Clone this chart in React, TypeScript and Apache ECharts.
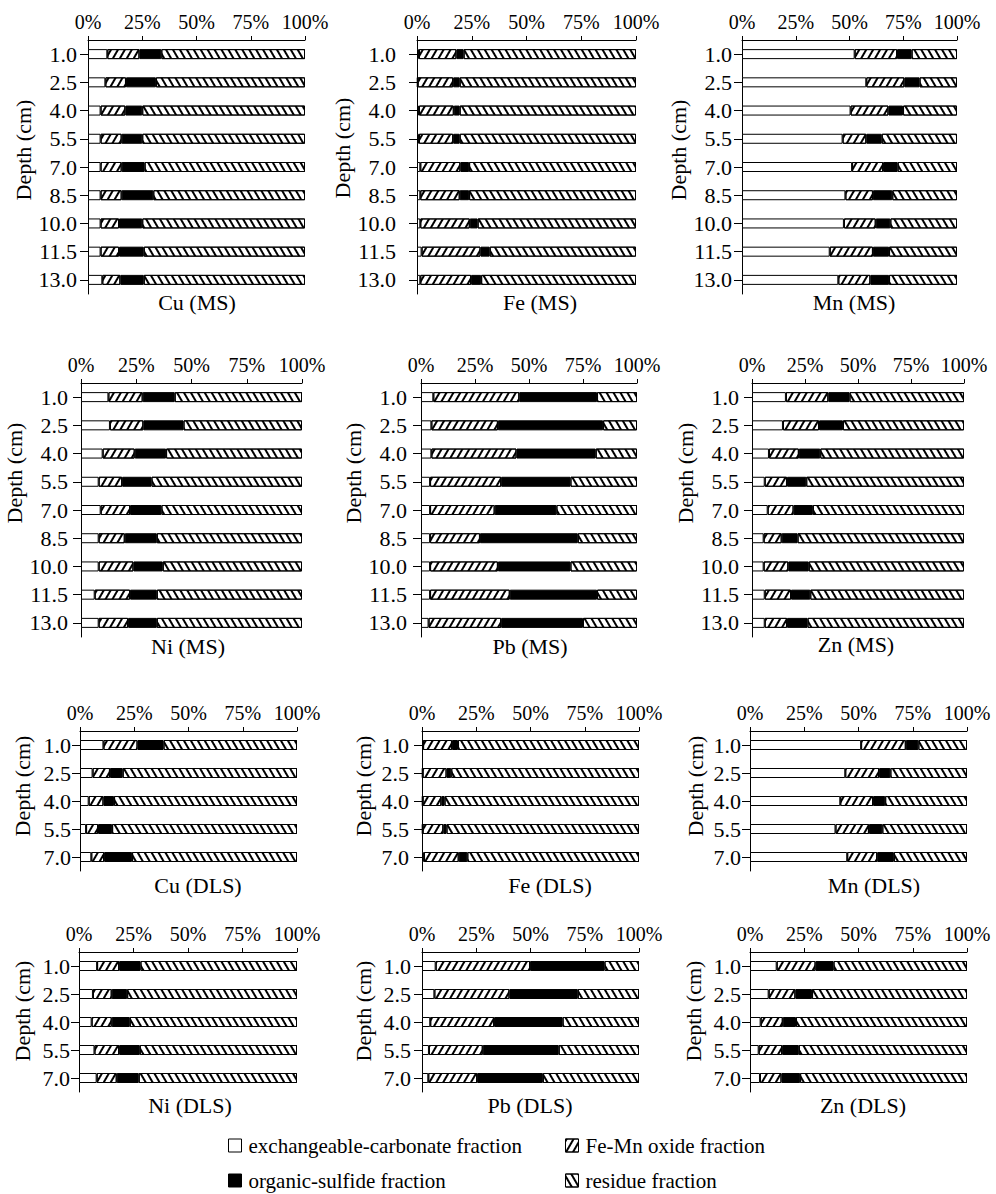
import React, { useEffect, useRef } from 'react';
import * as echarts from 'echarts';

// ---------- data ----------
const depthMS = ['1.0', '2.5', '4.0', '5.5', '7.0', '8.5', '10.0', '11.5', '13.0'];
const depthDLS = ['1.0', '2.5', '4.0', '5.5', '7.0'];
const fractionNames = [
  'exchangeable-carbonate fraction',
  'Fe-Mn oxide fraction',
  'organic-sulfide fraction',
  'residue fraction',
];
const panelTitles = [
  'Cu (MS)', 'Fe (MS)', 'Mn (MS)',
  'Ni (MS)', 'Pb (MS)', 'Zn (MS)',
  'Cu (DLS)', 'Fe (DLS)', 'Mn (DLS)',
  'Ni (DLS)', 'Pb (DLS)', 'Zn (DLS)',
];

// each: [exchangeable-carbonate, Fe-Mn oxide, organic-sulfide, residue] (%)
const cuMS = [
  [8.9, 8.0, 5.8, 5.8, 5.8, 5.8, 5.8, 5.8, 6.6],
  [14.8, 9.5, 11.4, 9.7, 9.7, 9.7, 8.5, 8.5, 8.3],
  [10.1, 13.8, 7.8, 9.5, 10.6, 14.6, 10.7, 11.4, 10.8],
  [66.2, 68.7, 75.0, 75.0, 73.9, 69.9, 75.0, 74.3, 74.3],
];
const feMS = [
  [0.9, 0.3, 0.9, 0.9, 1.5, 1.5, 1.5, 2.1, 1.5],
  [17.1, 16.2, 15.9, 15.6, 18.3, 18.0, 22.6, 26.9, 23.2],
  [3.3, 3.0, 2.7, 3.0, 4.0, 4.3, 3.6, 4.2, 4.6],
  [78.7, 80.5, 80.5, 80.5, 76.2, 76.2, 72.3, 66.8, 70.7],
];
const mnMS = [
  [52.4, 57.8, 50.5, 46.8, 51.2, 48.1, 47.4, 40.8, 44.8],
  [19.7, 17.7, 17.6, 11.0, 14.4, 12.8, 14.8, 20.1, 14.9],
  [6.8, 7.1, 6.8, 7.2, 6.8, 9.0, 6.8, 7.5, 8.7],
  [21.1, 17.4, 25.1, 35.0, 27.6, 30.1, 31.0, 31.6, 31.6],
];
const niMS = [
  [12.4, 13.1, 9.8, 8.0, 8.9, 8.0, 8.0, 6.2, 8.0],
  [15.5, 15.1, 14.5, 10.6, 13.3, 11.8, 15.7, 16.0, 13.3],
  [14.5, 18.2, 14.2, 13.3, 14.2, 14.5, 13.3, 12.1, 13.0],
  [57.6, 53.6, 61.5, 68.1, 63.6, 65.7, 63.0, 65.7, 65.7],
];
const pbMS = [
  [5.7, 4.8, 4.8, 4.2, 4.2, 4.2, 4.2, 4.2, 3.5],
  [39.8, 30.8, 39.4, 32.9, 29.9, 23.1, 31.4, 36.9, 33.6],
  [36.0, 48.7, 36.7, 32.1, 28.6, 45.3, 33.6, 40.4, 37.9],
  [18.5, 15.7, 19.1, 30.8, 37.3, 27.4, 30.8, 18.5, 25.0],
];
const znMS = [
  [16.0, 14.6, 8.0, 6.0, 7.4, 5.5, 5.5, 6.0, 6.0],
  [20.0, 17.0, 14.1, 10.5, 12.2, 8.5, 11.6, 12.4, 10.5],
  [10.0, 11.3, 10.1, 9.1, 9.1, 7.5, 9.7, 9.1, 9.7],
  [54.0, 57.1, 67.8, 74.4, 71.3, 78.5, 73.2, 72.5, 73.8],
];
const cuDLS = [
  [10.8, 5.8, 4.0, 2.8, 5.2],
  [15.7, 8.0, 6.8, 5.5, 5.9],
  [12.0, 5.9, 4.9, 6.5, 12.9],
  [61.5, 80.3, 84.3, 85.2, 76.0],
];
const feDLS = [
  [0.5, 0.3, 0.3, 0.3, 0.9],
  [13.3, 11.0, 8.6, 9.5, 16.0],
  [2.8, 2.2, 1.5, 1.5, 4.0],
  [83.4, 86.5, 89.6, 88.7, 79.1],
];
const mnDLS = [
  [51.2, 43.9, 41.6, 39.4, 44.8],
  [20.6, 15.6, 15.1, 15.4, 13.8],
  [5.8, 5.2, 5.6, 6.2, 7.7],
  [22.4, 35.3, 37.7, 39.0, 33.7],
];
const niDLS = [
  [8.3, 6.4, 5.8, 7.1, 8.1],
  [10.1, 8.6, 9.2, 11.3, 9.2],
  [9.8, 7.1, 8.3, 9.5, 10.1],
  [71.8, 77.9, 76.7, 72.1, 72.6],
];
const pbDLS = [
  [6.3, 5.7, 3.8, 3.2, 2.9],
  [43.5, 34.6, 29.4, 24.8, 22.5],
  [34.3, 31.5, 31.6, 35.0, 30.3],
  [15.9, 28.2, 35.2, 37.0, 44.3],
];
const znDLS = [
  [12.3, 8.6, 4.9, 4.0, 4.6],
  [17.9, 12.3, 10.2, 10.8, 9.9],
  [8.3, 7.7, 6.1, 7.7, 8.6],
  [61.5, 71.4, 78.8, 77.5, 76.9],
];

const panelValues = [cuMS, feMS, mnMS, niMS, pbMS, znMS, cuDLS, feDLS, mnDLS, niDLS, pbDLS, znDLS];
const panelDepths = [depthMS, depthMS, depthMS, depthMS, depthMS, depthMS, depthDLS, depthDLS, depthDLS, depthDLS, depthDLS, depthDLS];

// ---------- layout (pixels) ----------
// l: x of 0%, r: x of 100%, t: top axis y, h: plot height, lm: y-label margin,
// ng: y-name gap, ns: y-name upward shift, tx/ty: panel title centre
const layout = [
  { l: 88, r: 305, t: 40, h: 254, lm: 11, ng: 47, ns: 17, tx: 197, ty: 302 },
  { l: 417, r: 636, t: 40, h: 254, lm: 21, ng: 47, ns: 19, tx: 540, ty: 302 },
  { l: 742, r: 957, t: 40, h: 254, lm: 10, ng: 50, ns: 17, tx: 854, ty: 302 },
  { l: 81, r: 302, t: 383, h: 254, lm: 13, ng: 49, ns: 37, tx: 188, ty: 646 },
  { l: 421, r: 637, t: 383, h: 254, lm: 14, ng: 47, ns: 37, tx: 530, ty: 646 },
  { l: 752, r: 964, t: 383, h: 254, lm: 13, ng: 46, ns: 37, tx: 856, ty: 644 },
  { l: 80, r: 297, t: 731, h: 140, lm: 9, ng: 47, ns: 15, tx: 198, ty: 885 },
  { l: 422, r: 639, t: 731, h: 140, lm: 13, ng: 48, ns: 15, tx: 550, ty: 885 },
  { l: 750, r: 967, t: 731, h: 140, lm: 9, ng: 44, ns: 15, tx: 874, ty: 885 },
  { l: 79, r: 297, t: 952, h: 140, lm: 9, ng: 46, ns: 11, tx: 190, ty: 1105 },
  { l: 422, r: 639, t: 952, h: 140, lm: 11, ng: 48, ns: 11, tx: 530, ty: 1105 },
  { l: 750, r: 967, t: 952, h: 140, lm: 9, ng: 46, ns: 11, tx: 863, ty: 1105 },
];

const FONT = 'Liberation Serif';

const hatchFeMn = {
  symbol: 'rect', symbolSize: 1, dashArrayX: [1, 0], dashArrayY: [2, 4],
  rotation: -Math.PI / 3, color: '#000',
};
const hatchRes = {
  symbol: 'rect', symbolSize: 1, dashArrayX: [1, 0], dashArrayY: [2, 4],
  rotation: Math.PI / 3, color: '#000',
};
const fills = ['#fff', '#fff', '#000', '#fff'];
const decals: any[] = [null, hatchFeMn, null, hatchRes];

function buildOption() {
  const grid: any[] = [];
  const xAxis: any[] = [];
  const yAxis: any[] = [];
  const series: any[] = [];
  const graphic: any[] = [];

  layout.forEach((g, i) => {
    grid.push({ left: g.l, top: g.t, width: g.r - g.l, height: g.h, containLabel: false });
    xAxis.push({
      type: 'value', gridIndex: i, position: 'top', min: 0, max: 100, interval: 25,
      axisLine: { show: true, lineStyle: { color: '#000', width: 1 } },
      axisTick: { show: true, length: 4, lineStyle: { color: '#000' } },
      axisLabel: { formatter: '{value}%', color: '#000', fontSize: 20, fontFamily: FONT, margin: 8 },
      splitLine: { show: false },
    });
    yAxis.push({
      type: 'category', gridIndex: i, inverse: true, data: panelDepths[i],
      axisLine: { show: true, lineStyle: { color: '#000', width: 1 } },
      axisTick: { show: true, alignWithLabel: true, interval: 0, length: 8, lineStyle: { color: '#000' } },
      axisLabel: { interval: 0, color: '#000', fontSize: 22, fontFamily: FONT, margin: g.lm, padding: [4, 0, 0, 0] },
      name: 'Depth (cm)', nameLocation: 'middle', nameGap: g.ng,
      nameTextStyle: { color: '#000', fontSize: 22, fontFamily: FONT, padding: [0, 0, 0, 2 * g.ns] },
      splitLine: { show: false },
    });
    fractionNames.forEach((name, k) => {
      series.push({
        type: 'bar', name, xAxisIndex: i, yAxisIndex: i, stack: 'p' + i, barWidth: 10,
        data: panelValues[i][k],
        silent: true,
        itemStyle: { color: fills[k], borderColor: '#000', borderWidth: 1, decal: decals[k] || undefined },
      });
    });
    graphic.push({
      type: 'text', x: g.tx, y: g.ty,
      style: {
        text: panelTitles[i], fontSize: 22, fontFamily: FONT, fill: '#000',
        align: 'center', verticalAlign: 'middle', textAlign: 'center', textVerticalAlign: 'middle',
      },
    });
  });

  const legendCommon = {
    orient: 'vertical', itemWidth: 13, itemHeight: 13, itemGap: 14, padding: 0,
    icon: 'rect', selectedMode: false,
    textStyle: { color: '#000', fontSize: 21, fontFamily: FONT, lineHeight: 21, padding: [0, 0, 0, 2] },
    itemStyle: { borderColor: '#000', borderWidth: 1 },
  };

  return {
    animation: false,
    backgroundColor: '#fff',
    textStyle: { fontFamily: FONT },
    grid, xAxis, yAxis, series, graphic,
    legend: [
      { ...legendCommon, left: 228, top: 1135, data: [fractionNames[0], fractionNames[2]] },
      { ...legendCommon, left: 565, top: 1135, data: [fractionNames[1], fractionNames[3]] },
    ],
  };
}

export default function App() {
  const ref = useRef<HTMLDivElement>(null);
  useEffect(() => {
    document.body.style.margin = '0';
    const chart = echarts.init(ref.current!, null, { renderer: 'svg' });
    chart.setOption(buildOption() as any);
    return () => chart.dispose();
  }, []);
  return <div ref={ref} style={{ width: 996, height: 1194 }} />;
}
